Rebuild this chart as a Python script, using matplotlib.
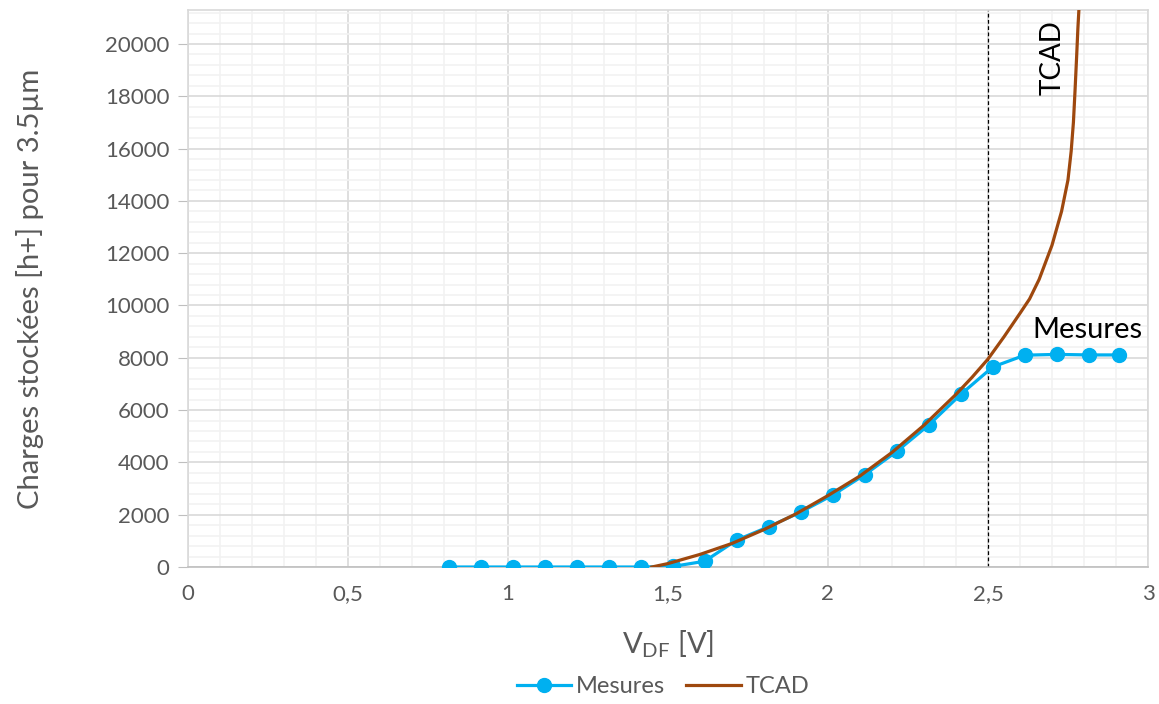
import matplotlib.pyplot as plt
from matplotlib.ticker import MultipleLocator, FuncFormatter

plt.rcParams['font.family'] = ['Lato', 'DejaVu Sans']

# Mesures
vdf_mes = [0.815, 0.915, 1.015, 1.115, 1.215, 1.315, 1.415, 1.515, 1.615, 1.715, 1.815,
           1.915, 2.015, 2.115, 2.215, 2.315, 2.415, 2.515, 2.615, 2.715, 2.815, 2.91]
q_mes = [0, 0, 0, 0, 0, 0, 0, 20, 220, 1030, 1540, 2100, 2750, 3530, 4420, 5430,
         6600, 7650, 8100, 8130, 8110, 8110]

# TCAD
vdf_tcad = [1.45, 1.5, 1.6, 1.7, 1.8, 1.9, 2.0, 2.1, 2.2, 2.3, 2.4, 2.45, 2.5, 2.55, 2.6,
            2.63, 2.66, 2.7, 2.73, 2.75, 2.76, 2.767, 2.772, 2.777, 2.781, 2.785]
q_tcad = [0, 130, 480, 900, 1430, 2030, 2730, 3480, 4380, 5420, 6600, 7250, 7950, 8800,
          9700, 10250, 11000, 12300, 13600, 14800, 15900, 17000, 18200, 19500, 20600, 21500]

grey = "#595959"

fig = plt.figure(figsize=(11.59, 7.04), dpi=100)
ax = fig.add_axes([0.162, 0.1946, 0.8285, 0.7912])

ax.plot(vdf_mes, q_mes, color="#00b0f0", linewidth=2.3, marker="o", markersize=10,
        label="Mesures", zorder=3)
ax.plot(vdf_tcad, q_tcad, color="#9e480e", linewidth=2.3, label="TCAD", zorder=4)
ax.axvline(2.5, color="black", linestyle=(0, (3, 2)), linewidth=0.9, zorder=2)

ax.set_xlim(0, 3)
ax.set_ylim(0, 21300)
ax.xaxis.set_major_locator(MultipleLocator(0.5))
ax.xaxis.set_minor_locator(MultipleLocator(0.1))
ax.yaxis.set_major_locator(MultipleLocator(2000))
ax.yaxis.set_minor_locator(MultipleLocator(400))
ax.xaxis.set_major_formatter(FuncFormatter(lambda v, p: f"{v:g}".replace(".", ",")))

ax.grid(which="major", color="#d9d9d9", linewidth=1.2, zorder=0)
ax.grid(which="minor", color="#f2f2f2", linewidth=1.2, zorder=0)
ax.set_axisbelow(True)

for s in ["top", "right", "left"]:
    ax.spines[s].set_color("#d9d9d9")
    ax.spines[s].set_linewidth(1.2)
ax.spines["bottom"].set_color("#bfbfbf")
ax.spines["bottom"].set_linewidth(1.2)

ax.tick_params(axis="y", which="major", length=7, color="#bfbfbf", labelsize=16,
               labelcolor=grey, pad=6)
ax.tick_params(axis="x", which="major", length=0, labelsize=16, labelcolor=grey, pad=12)
ax.tick_params(which="minor", length=0)

ax.set_ylabel("Charges stockées [h+] pour 3.5µm", fontsize=21, color=grey, labelpad=44)
ax.set_xlabel("V$_{\\mathregular{DF}}$ [V]", fontsize=21, color=grey, labelpad=18)

ax.text(2.703, 19500, "TCAD", rotation=90, fontsize=20, color="black", ha="center", va="center")
ax.text(2.81, 9050, "Mesures", fontsize=21, color="black", ha="center", va="center")

leg = fig.legend(loc="lower center", bbox_to_anchor=(0.572, -0.02), ncol=2, frameon=False,
                 fontsize=17, handlelength=2.3, columnspacing=0.9, handletextpad=0.2)
for t in leg.get_texts():
    t.set_color(grey)

fig.savefig("out.png", dpi=100)
